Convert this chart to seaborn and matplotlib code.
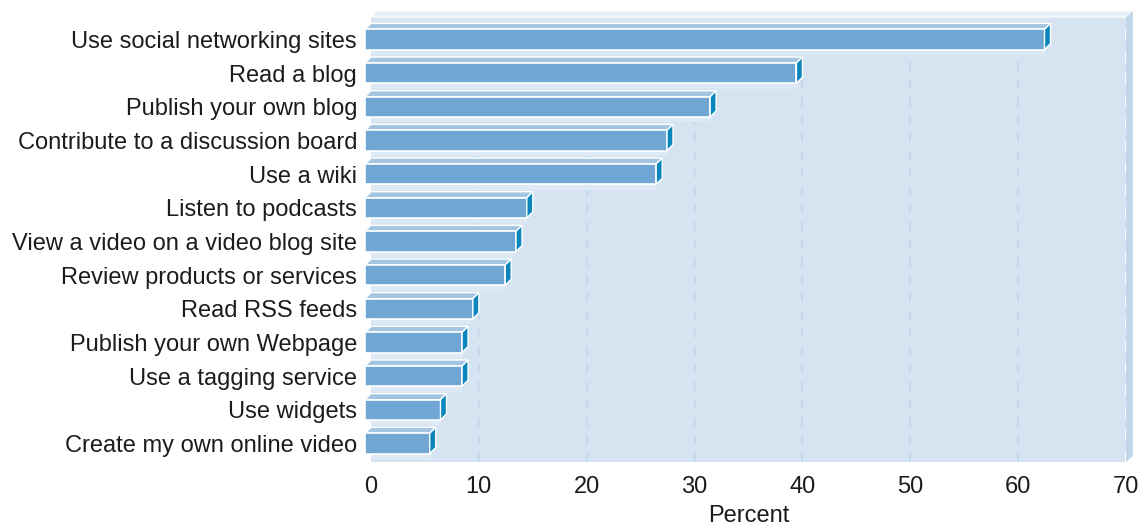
import numpy as np
import pandas as pd
import matplotlib
matplotlib.use("Agg")
import matplotlib.pyplot as plt
import seaborn as sns
from matplotlib.patches import Polygon, Rectangle
from matplotlib.transforms import ScaledTranslation

# data
activities = [
    "Use social networking sites", "Read a blog", "Publish your own blog",
    "Contribute to a discussion board", "Use a wiki", "Listen to podcasts",
    "View a video on a video blog site", "Review products or services",
    "Read RSS feeds", "Publish your own Webpage", "Use a tagging service",
    "Use widgets", "Create my own online video",
]
percent = [63, 40, 32, 28, 27, 15, 14, 13, 10, 9, 9, 7, 6]
x_ticks = [0, 10, 20, 30, 40, 50, 60, 70]

df = pd.DataFrame({"activity": activities, "percent": percent})

# colours
panel_col = "#d6e4f1"
front_col = "#6fa6d3"
top_col = "#a3c5e2"
side_col = "#0b86bd"
grid_col = "#c6d9eb"
text_col = "#1c1c1c"

sns.set_style("white")
plt.rcParams["font.family"] = ["Liberation Sans", "DejaVu Sans"]

W, H = 1144, 527
fig = plt.figure(figsize=(W / 100, H / 100), dpi=100)
# axes = back plane of the 3d box
ax = fig.add_axes([371 / W, (H - 462) / H, (1126 - 371) / W, (462 - 17) / H])
ax.set_facecolor(panel_col)

sns.barplot(data=df, y="activity", x="percent", orient="h", width=0.6,
            color=front_col, saturation=1, ax=ax, zorder=4)

ax.set_xlim(0, 70)
ax.set_ylim(len(activities) - 1 + 0.73, -0.49)

# depth of the fake 3d effect: 6 px right / 6 px up
depth = 6
dx = depth * 70 / 755
dy = depth * (len(activities) - 1 + 0.73 + 0.49) / 445
shift = ScaledTranslation(-depth / 100, -depth / 100, fig.dpi_scale_trans)

bars = list(ax.patches)
for p in bars:
    x0, y0, w, h = p.get_x(), p.get_y(), p.get_width(), p.get_height()
    p.set_transform(ax.transData + shift)
    p.set_edgecolor("white")
    p.set_linewidth(1.2)
    p.set_clip_on(False)
    # faint band below each bar on the back wall
    ax.add_patch(Rectangle((0, y0 + h + dy), max(w - dx, 0), dy * 0.9,
                           facecolor="#dde9f5", edgecolor="none", zorder=2))
    top = Polygon([(x0 - dx, y0 + dy), (x0 + w - dx, y0 + dy), (x0 + w, y0), (x0, y0)],
                  closed=True, facecolor=top_col, edgecolor="white", lw=1.0,
                  zorder=3, clip_on=False)
    side = Polygon([(x0 + w - dx, y0 + dy), (x0 + w, y0), (x0 + w, y0 + h),
                    (x0 + w - dx, y0 + h + dy)],
                   closed=True, facecolor=side_col, edgecolor="white", lw=1.0,
                   zorder=5, clip_on=False)
    ax.add_patch(top)
    ax.add_patch(side)

# walls of the box
ddx = 7 / 755
ddy = 6 / 445
ax.add_patch(Polygon([(0, 1), (ddx * 0.7, 1 + ddy), (1 + ddx, 1 + ddy), (1, 1)],
                     closed=True, transform=ax.transAxes, facecolor="#e6eff8",
                     edgecolor="white", lw=0.8, clip_on=False, zorder=1))
ax.add_patch(Polygon([(1, 1), (1 + ddx, 1 + ddy), (1 + ddx, ddy), (1, 0)],
                     closed=True, transform=ax.transAxes, facecolor="#c2d7eb",
                     edgecolor="none", clip_on=False, zorder=1))

# dashed grid
ax.set_xticks(x_ticks)
ax.set_axisbelow(True)
ax.xaxis.grid(True, color=grid_col, linestyle=(0, (4, 4)), linewidth=1.6)
gl = ax.xaxis.get_gridlines()
gl[0].set_visible(False)
gl[-1].set_color("white")
gl[-1].set_clip_on(False)
gl[-1].set_linewidth(2)
gl[-1].set_zorder(2)
ax.yaxis.grid(False)

for s in ax.spines.values():
    s.set_visible(False)

ax.set_yticks(np.arange(len(activities)) + dy, labels=activities)
ax.tick_params(axis="y", length=0, pad=10, labelsize=17, labelcolor=text_col)
ax.tick_params(axis="x", length=0, pad=10, labelsize=17, labelcolor=text_col)
ax.set_ylabel("")
ax.set_xlabel("Percent", fontsize=17, color=text_col, labelpad=5)

fig.savefig("out.png", dpi=100)
